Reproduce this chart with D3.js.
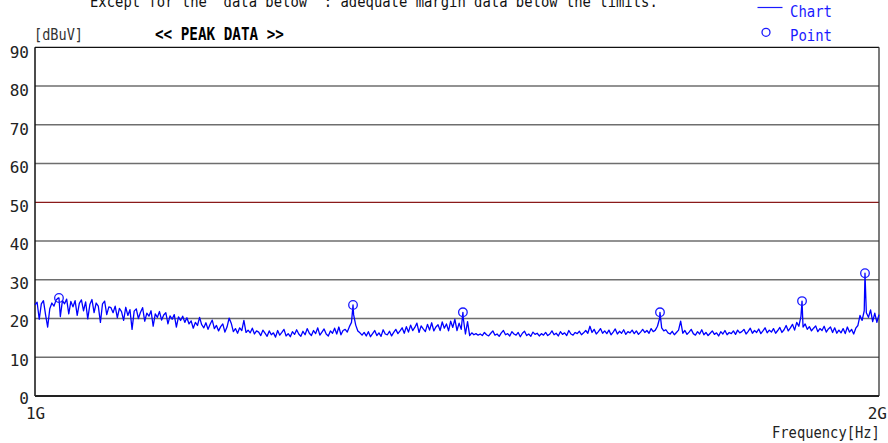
<!DOCTYPE html>
<html>
<head>
<meta charset="utf-8">
<script src="https://cdn.jsdelivr.net/npm/d3@7"></script>
<style>
  html, body { margin: 0; padding: 0; background: #fff; }
  svg { display: block; }
  text { font-family: "DejaVu Sans Mono", "Liberation Mono", monospace; }
</style>
</head>
<body>
<svg id="chart" width="888" height="443"></svg>
<script>
// Sweep: 1 GHz to 2 GHz, 2.5 MHz per sample
const sweepStartMHz = 1000;
const sweepStepMHz = 2.5;
const sweepLevels = [
  23.5, 24.2, 19.8, 23.8, 24.6, 21.0, 17.8, 22.5, 24.0, 23.2,
  24.8, 25.3, 20.5, 24.6, 23.8, 25.0, 21.2, 24.4, 23.0, 24.6,
  20.8, 23.9, 24.8, 22.0, 24.3, 19.9, 23.6, 24.9, 21.5, 24.0,
  23.2, 19.0, 23.8, 24.5, 21.0, 23.0,
  22.8, 21.5, 23.2, 20.2, 22.6, 21.8, 19.5, 22.9, 20.8, 22.3,
  17.2, 21.9, 22.5, 20.0, 21.6, 22.8, 19.3, 21.4, 20.6, 22.0,
  18.0, 21.2, 20.3, 21.8, 19.6, 20.9, 21.5, 18.6, 20.7, 19.8,
  21.0, 17.8, 20.4, 19.5, 20.6,
  19.0, 20.2, 18.6, 19.4, 17.5, 19.0, 18.2, 20.3, 18.4, 17.6,
  18.9, 17.2, 18.5, 19.6, 17.4, 18.2, 16.8, 17.9, 18.6, 16.5,
  17.8, 20.1, 18.8, 16.6, 17.4, 16.2, 17.6, 16.9, 19.5, 16.4,
  17.0, 16.3, 17.5, 16.0, 16.8,
  16.5, 15.6, 17.0, 16.2, 15.4, 16.8, 15.8, 16.3, 15.2, 16.9,
  15.7, 16.4, 17.2, 15.5, 16.1, 15.3, 16.6, 15.9, 17.1, 16.0,
  15.4, 16.7, 15.8, 17.4, 16.2, 15.6, 16.9, 16.1, 17.6, 15.7,
  16.5, 17.3, 16.0, 15.5, 16.8,
  16.2, 17.5, 16.0, 17.8, 15.8, 16.9, 17.2, 16.5, 17.9, 19.0,
  21.0, 18.3, 16.8, 16.3, 15.7, 16.4, 15.5, 16.6, 15.3, 16.1,
  16.9, 15.6, 16.3, 15.4, 17.1, 16.0, 15.8, 16.7, 15.5, 16.4,
  17.2, 16.1, 16.8, 17.6, 16.2, 17.9, 16.5, 18.3, 16.9, 17.7,
  18.8, 16.4, 18.1, 17.3, 16.6, 18.5, 17.0, 18.9, 16.8, 17.8,
  18.4, 16.9, 19.1, 17.5, 18.6, 16.8, 19.3, 17.7, 19.8, 16.9,
  18.8, 17.2, 20.0, 16.0, 19.2, 15.6, 16.3, 15.8, 16.1, 15.7,
  16.0, 15.6, 16.4, 15.8, 15.5, 16.2, 16.8, 15.7, 16.0, 15.4,
  16.3, 16.9, 15.8, 16.1, 15.5, 16.6, 16.0, 15.7, 16.4, 15.3,
  16.2, 16.7, 15.6, 16.0, 15.4, 16.5, 15.9, 16.2, 15.5, 16.1,
  15.7, 16.4, 15.6, 16.0, 16.8, 15.8, 16.2, 15.5, 16.6, 15.9,
  16.3, 15.6, 16.9, 16.0, 15.7, 16.4, 16.1, 16.7, 15.8, 16.3,
  16.9, 16.2, 18.0, 16.4, 17.2, 16.0, 16.6, 17.4, 16.2, 16.8,
  16.1, 17.0, 15.8, 16.5, 17.3, 16.0, 16.7, 16.2, 17.1, 15.9,
  16.6, 16.3, 17.0, 16.1, 16.8, 15.9, 16.5, 17.2, 16.4, 16.9,
  16.2, 17.4, 16.6, 17.0, 18.0, 20.0, 17.6, 16.8, 17.1, 16.3,
  16.0, 16.7, 15.8, 16.4, 17.0, 19.3, 16.2, 16.9, 15.9, 16.5,
  17.2, 16.1, 15.7, 16.6, 16.0, 17.1, 15.8, 16.4, 15.6, 16.2,
  16.8, 15.9, 16.3, 15.5, 16.6, 16.0, 16.9, 15.8, 16.4, 16.1,
  16.8, 15.9, 17.0, 16.3, 16.6, 17.2, 16.0, 16.7, 17.5, 16.2,
  16.9, 16.4, 17.3, 16.1, 16.8, 17.6, 16.3, 17.0, 16.5, 17.4,
  16.2, 16.9, 17.7, 16.4, 17.1, 18.2, 16.8, 17.6, 18.5, 17.0,
  19.0, 18.0, 20.5, 17.8, 18.6, 17.2, 17.9, 16.8, 17.5, 18.1,
  16.6, 17.4, 16.9, 18.0, 16.5, 17.3, 17.8, 16.4, 17.6, 16.2,
  17.0, 16.3, 17.4, 16.1, 17.8, 16.5, 17.2, 16.0, 17.5, 18.2,
  20.8, 19.5, 22.0, 21.5, 20.3, 22.2, 19.2, 21.4, 19.0, 21.0
];

// Peak list (MHz, dBuV)
const peakFreqs = [1028.4, 1376.8, 1507.0, 1740.5, 1908.8, 1983.4];
const peakLevels = [25.3, 23.5, 21.6, 21.6, 24.5, 31.7];

const limitLevel = 50;
const levelTicks = [0, 10, 20, 30, 40, 50, 60, 70, 80, 90];
const freqLabels = ["1G", "2G"];

(function draw() {
  const svg = d3.select("#chart");
  const plotLeft = 35, plotRight = 879, plotTop = 47.3, plotBottom = 396;

  const x = d3.scaleLinear().domain([1000, 2000]).range([plotLeft, plotRight]);
  const y = d3.scaleLinear().domain([0, 90]).range([plotBottom, plotTop]);
  // tick labels sit on a slightly tighter pitch than the grid
  const yLabel = d3.scaleLinear().domain([0, 90]).range([398.5, 52]);

  // fixed-pitch text squeezed horizontally to the narrow half-width look
  function label(xPos, yPos, str, size, width, opts = {}) {
    const g = svg.append("g");
    const t = g.append("text")
      .attr("x", 0).attr("y", 0)
      .attr("font-size", size)
      .attr("fill", opts.fill || "#222")
      .text(str);
    if (opts.bold) t.attr("font-weight", "bold");
    const natural = t.node().getComputedTextLength() || width;
    const sx = width / natural;
    const x0 = opts.anchor === "end" ? xPos - width : xPos;
    g.attr("transform", `translate(${x0},${yPos}) scale(${sx},1)`);
    return g;
  }

  // header note (partly above the page edge)
  label(90, 7, 'Except for the "data below" : adequate margin data below the limits.', 16, 568, { fill: "#111" });

  // grid lines
  svg.append("g")
    .selectAll("line")
    .data(levelTicks.filter(v => v > 0 && v < 90))
    .join("line")
    .attr("x1", plotLeft).attr("x2", plotRight)
    .attr("y1", d => y(d)).attr("y2", d => y(d))
    .attr("stroke", d => d === limitLevel ? "#8a1a1a" : "#6e6e6e")
    .attr("stroke-width", d => d === limitLevel ? 1.2 : 1.4);

  // frame
  svg.append("line").attr("x1", plotLeft).attr("x2", plotRight).attr("y1", plotTop).attr("y2", plotTop)
    .attr("stroke", "#111").attr("stroke-width", 1.3);
  svg.append("line").attr("x1", plotLeft).attr("x2", plotLeft).attr("y1", plotTop).attr("y2", plotBottom)
    .attr("stroke", "#111").attr("stroke-width", 1.5);
  svg.append("line").attr("x1", plotRight).attr("x2", plotRight).attr("y1", plotTop).attr("y2", plotBottom)
    .attr("stroke", "#333").attr("stroke-width", 1.3);
  svg.append("line").attr("x1", plotLeft).attr("x2", plotRight).attr("y1", plotBottom).attr("y2", plotBottom)
    .attr("stroke", "#222").attr("stroke-width", 2);

  // level tick labels
  const yAxis = svg.append("g")
    .attr("transform", `translate(${plotLeft - 6},0)`)
    .call(d3.axisLeft(yLabel).tickValues(levelTicks).tickSize(0).tickPadding(0).tickFormat(d3.format("d")));
  yAxis.select(".domain").remove();
  yAxis.selectAll("text")
    .attr("font-family", "'Liberation Sans', Arial, sans-serif")
    .attr("font-size", 16).attr("fill", "#222");

  // frequency labels
  const xAxis = svg.append("g")
    .attr("transform", `translate(0,${plotBottom})`)
    .call(d3.axisBottom(x).tickValues([1000, 2000]).tickSize(0).tickPadding(0)
      .tickFormat((d, i) => freqLabels[i]));
  xAxis.select(".domain").remove();
  xAxis.selectAll("text")
    .attr("font-family", "'Liberation Sans', Arial, sans-serif")
    .attr("font-size", 16).attr("fill", "#222")
    .attr("dy", 0).attr("y", 23);
  xAxis.selectAll(".tick").filter(d => d === 2000).select("text").attr("text-anchor", "end").attr("x", 7.5);

  label(880, 438, "Frequency[Hz]", 16, 108, { anchor: "end" });
  label(34, 40, "[dBuV]", 16, 49, { fill: "#333" });
  label(155, 40, "<< PEAK DATA >>", 17, 129, { bold: true, fill: "#000" });

  // legend
  svg.append("line").attr("x1", 757.5).attr("x2", 782.5).attr("y1", 7.5).attr("y2", 7.5)
    .attr("stroke", "#1a1aff").attr("stroke-width", 1.2);
  label(790, 17, "Chart", 16, 42, { fill: "#1a1aff" });
  svg.append("circle").attr("cx", 766).attr("cy", 32.3).attr("r", 4)
    .attr("fill", "none").attr("stroke", "#1a1aff").attr("stroke-width", 1.3);
  label(790, 40.5, "Point", 16, 42, { fill: "#1a1aff" });

  // trace: sweep samples with the peak readings merged in
  const sweep = sweepLevels.map((v, i) => ({ f: sweepStartMHz + i * sweepStepMHz, v }));
  const peaks = peakFreqs.map((f, i) => ({ f, v: peakLevels[i] }));
  const trace = sweep.concat(peaks).sort((a, b) => a.f - b.f);

  const line = d3.line().x(d => x(d.f)).y(d => y(d.v));
  svg.append("path")
    .datum(trace)
    .attr("d", line)
    .attr("fill", "none")
    .attr("stroke", "#0000ff")
    .attr("stroke-width", 1.3)
    .attr("stroke-linejoin", "round");

  // peak markers
  svg.append("g")
    .selectAll("circle")
    .data(peaks)
    .join("circle")
    .attr("cx", d => x(d.f)).attr("cy", d => y(d.v))
    .attr("r", 4.3)
    .attr("fill", "none")
    .attr("stroke", "#1a1aff")
    .attr("stroke-width", 1.3);
})();
</script>
</body>
</html>
